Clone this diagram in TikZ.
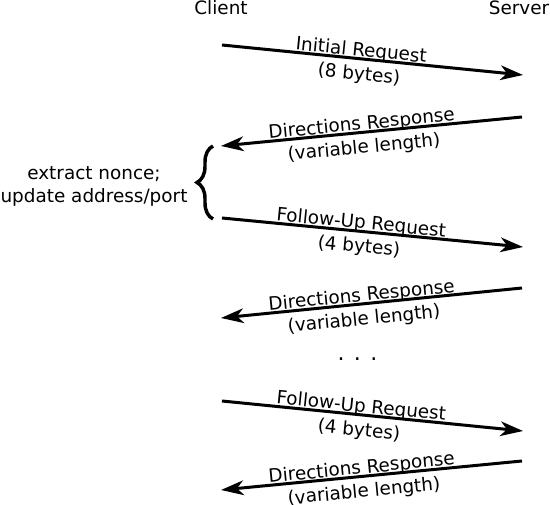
\documentclass[tikz,border=0pt]{standalone}
\usepackage{fontspec}
\setmainfont{DejaVu Sans}
\usetikzlibrary{arrows.meta,decorations.pathreplacing}
\tikzstyle{msg}=[line width=2.25pt,-{Stealth[length=17pt,width=11pt,inset=5pt]}]
\tikzstyle{upper}=[sloped,above=-2pt,inner sep=0pt]
\tikzstyle{lower}=[sloped,below,inner sep=4.2pt]
\tikzstyle{party}=[anchor=base]
\tikzstyle{note}=[align=center]
\tikzstyle{curly}=[line width=2.6pt,decorate,decoration={brace,amplitude=12pt}]

\begin{document}
\begin{tikzpicture}[x=0.75pt,y=-0.75pt,font=\fontsize{13.8}{17.25}\selectfont]
    \useasboundingbox (0,0) rectangle (550,505);
    \node [style=party] (client) at (221,15) {Client};
    \node [style=party] (server) at (519,15) {Server};
    \coordinate (c1) at (222,45);
    \coordinate (s1) at (523,75);
    \coordinate (s2) at (522,117);
    \coordinate (c2) at (221,146);
    \coordinate (c3) at (222,218);
    \coordinate (s3) at (523,247);
    \coordinate (s4) at (522,288);
    \coordinate (c4) at (221,318);
    \coordinate (c5) at (222,401);
    \coordinate (s5) at (523,431);
    \coordinate (s6) at (522,461);
    \coordinate (c6) at (221,490);
    \coordinate (b1) at (213,219);
    \coordinate (b2) at (213,146);
    \node [style=note] (fixup) at (94,186) {extract nonce;\\update address/port};
    \node [style=party] (gap) at (357.5,361) {\fontsize{16.5}{16.5}\selectfont . . .};
    \draw [style=msg] (c1) to node [style=upper,pos=0.46] {Initial Request}
      node [style=lower,pos=0.46] {(8 bytes)} (s1);
    \draw [style=msg] (s2) to node [style=upper,pos=0.53] {Directions Response}
      node [style=lower,pos=0.53] {(variable length)} (c2);
    \draw [style=msg] (c3) to node [style=upper,pos=0.46] {Follow-Up Request}
      node [style=lower,pos=0.46] {(4 bytes)} (s3);
    \draw [style=msg] (s4) to node [style=upper,pos=0.53] {Directions Response}
      node [style=lower,pos=0.53] {(variable length)} (c4);
    \draw [style=msg] (c5) to node [style=upper,pos=0.46] {Follow-Up Request}
      node [style=lower,pos=0.46] {(4 bytes)} (s5);
    \draw [style=msg] (s6) to node [style=upper,pos=0.53] {Directions Response}
      node [style=lower,pos=0.53] {(variable length)} (c6);
    \draw [style=curly] (b1) to (b2);
  \end{tikzpicture}
\end{document}
